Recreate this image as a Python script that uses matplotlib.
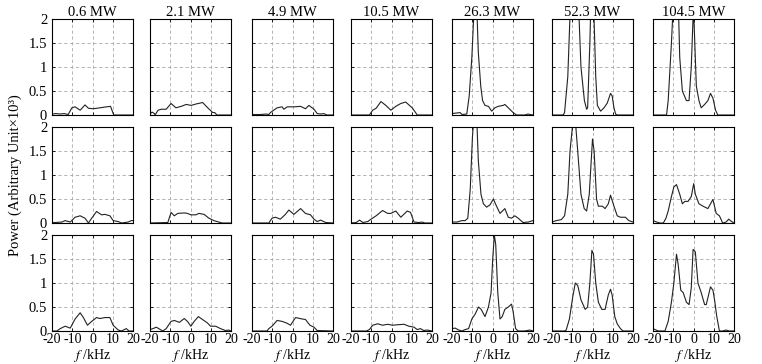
import matplotlib
matplotlib.use('Agg')
import matplotlib.pyplot as plt

plt.rcParams['font.family'] = ['Liberation Serif', 'DejaVu Serif']
plt.rcParams['mathtext.fontset'] = 'stix'
plt.rcParams['axes.unicode_minus'] = False

# heater power for each column
powers = ['0.6 MW', '2.1 MW', '4.9 MW', '10.5 MW', '26.3 MW', '52.3 MW', '104.5 MW']

# frequency (kHz) and power values, one list per column
row1_freq = [
    [-20, -18, -16, -14, -12, -10.2, -8.6, -6.1, -3.7, -2, 0.4, 3.7, 6.9, 8.9, 10.5, 20],
    [-20, -19, -17.8, -17.5, -16, -14.4, -12, -9.6, -7.2, -4.6, -2.1, 0.3, 2.8, 6, 8.5, 11, 12, 13, 20],
    [-20, -16, -13, -11.7, -10.9, -9.3, -7.6, -5.1, -4.3, -2.6, 0.7, 4, 6.4, 8.1, 10.6, 12.2, 14, 15.5, 16.9, 20],
    [-20, -10.9, -9.3, -7.6, -5.2, -2.8, -0.3, 2.1, 4.6, 7, 10.2, 11.9, 12.7, 20],
    [-20, -16, -15, -12.7, -11.5, -10.2, -9, -8.4, -7.8, -7, -5.8, -4.9, -3.7, -2, -0.4, 1.2, 2.8, 5.3, 6.1, 7.8, 10.2, 11.8, 15.9, 17.5, 20],
    [-20, -14.5, -13.8, -12.2, -11, -9.5, -8, -6.8, -5.7, -4, -2.9, -2.4, -1.3, -0.3, 0.5, 1.6, 2.4, 4, 5.7, 7.3, 8.9, 9.7, 10.6, 11.4, 12.2, 20],
    [-20, -13.3, -12.5, -10.9, -10, -8.8, -7.6, -6.8, -5.5, -3.5, -2.2, -1.1, -0.2, 0.3, 1.4, 2.7, 3.8, 5.5, 7.1, 8.4, 9.6, 10.9, 12, 20],
]
row1_power = [
    [0.02, 0.03, 0.02, 0.03, 0.01, 0.15, 0.17, 0.1, 0.21, 0.14, 0.13, 0.15, 0.17, 0.18, 0.0, 0.0],
    [0.02, 0.06, 0.03, 0.0, 0.1, 0.12, 0.12, 0.24, 0.15, 0.18, 0.22, 0.2, 0.23, 0.26, 0.15, 0.05, 0.05, 0.0, 0.0],
    [0.01, 0.01, 0.02, 0.01, 0.05, 0.1, 0.15, 0.17, 0.12, 0.17, 0.17, 0.18, 0.13, 0.2, 0.12, 0.03, 0.02, 0.03, 0.0, 0.0],
    [0.0, 0.0, 0.1, 0.14, 0.28, 0.2, 0.1, 0.18, 0.24, 0.27, 0.15, 0.05, 0.0, 0.0],
    [0.03, 0.05, 0.01, 0.02, 0.4, 1.2, 2.3, 2.6, 2.3, 1.3, 0.6, 0.3, 0.2, 0.18, 0.08, 0.15, 0.18, 0.2, 0.22, 0.15, 0.05, 0.0, 0.0, 0.02, 0.0],
    [0.0, 0.0, 0.05, 0.8, 2.2, 3.5, 3.4, 2.2, 1.0, 0.3, 0.12, 0.15, 1.5, 3.2, 2.4, 0.8, 0.2, 0.08, 0.15, 0.25, 0.45, 0.4, 0.15, 0.02, 0.0, 0.0],
    [0.0, 0.0, 0.3, 1.5, 2.3, 3.0, 2.5, 1.2, 0.5, 0.3, 0.3, 1.0, 2.05, 1.9, 0.6, 0.3, 0.15, 0.22, 0.3, 0.45, 0.35, 0.1, 0.0, 0.0],
]

row2_freq = [
    [-20, -18.4, -15.1, -13.5, -11, -8.6, -6.1, -3.7, -2, -0.4, 2, 4.5, 6.1, 8.6, 10.2, 12.7, 14.3, 17.6, 19.2, 20],
    [-20, -11.2, -9.6, -8, -6.3, -3.1, -1.5, 0.2, 2.6, 4.2, 6.7, 9.1, 11.5, 14, 15.6, 20],
    [-20, -11.7, -10.1, -8.4, -6, -3.5, -1.8, 0.7, 4, 6.4, 8.9, 10.6, 12.2, 13.9, 16.4, 20],
    [-20, -17.4, -15.8, -14.1, -11.7, -10.1, -7.6, -4.4, -1.9, -0.3, 2.1, 4.6, 7.8, 9.4, 11.1, 13.5, 15.1, 16.5, 20],
    [-20, -17.6, -15.1, -13.5, -12.2, -11, -9.9, -9, -8.4, -7.8, -7, -5.7, -4.5, -2.9, -1.2, 0.4, 2, 3.7, 6.1, 7.8, 9.4, 11, 12.7, 15.1, 17.6, 20],
    [-20, -17.9, -15.4, -13.8, -12.2, -11.1, -9.8, -8.5, -7.3, -5.7, -4.1, -2.9, -1.6, 0, 0.8, 2, 2.9, 4.9, 6.2, 7.8, 8.9, 10.6, 12.2, 13.8, 16.3, 17.9, 20],
    [-20, -18.2, -16.6, -14.9, -13.6, -12.5, -10.9, -9.7, -8.4, -6.8, -5.5, -4.3, -2.7, -1.1, 0.1, 0.9, 2.7, 4.7, 7.1, 9.6, 11.2, 12.8, 14.4, 16.1, 17.4, 18.5, 20],
]
row2_power = [
    [0.01, 0.01, 0.02, 0.05, 0.02, 0.12, 0.15, 0.1, 0.0, 0.1, 0.24, 0.17, 0.18, 0.15, 0.05, 0.03, 0.0, 0.02, 0.05, 0.05],
    [0.0, 0.01, 0.22, 0.15, 0.2, 0.21, 0.2, 0.17, 0.17, 0.2, 0.18, 0.1, 0.05, 0.02, 0.0, 0.0],
    [0.0, 0.0, 0.1, 0.12, 0.08, 0.18, 0.27, 0.18, 0.3, 0.2, 0.17, 0.08, 0.03, 0.06, 0.01, 0.0],
    [0.0, 0.01, 0.06, 0.01, 0.03, 0.08, 0.15, 0.26, 0.2, 0.2, 0.25, 0.12, 0.25, 0.22, 0.02, 0.01, 0.02, 0.0, 0.0],
    [0.02, 0.02, 0.05, 0.05, 0.1, 0.7, 1.8, 2.3, 2.4, 2.2, 1.3, 0.6, 0.4, 0.33, 0.38, 0.5, 0.35, 0.2, 0.3, 0.12, 0.1, 0.15, 0.1, 0.01, 0.02, 0.05],
    [0.02, 0.05, 0.07, 0.15, 0.6, 1.5, 2.05, 2.15, 1.5, 0.6, 0.3, 0.25, 0.6, 1.75, 1.5, 0.5, 0.35, 0.35, 0.3, 0.4, 0.58, 0.35, 0.15, 0.12, 0.12, 0.05, 0.02],
    [0.05, 0.02, 0.0, 0.0, 0.1, 0.25, 0.55, 0.75, 0.8, 0.6, 0.4, 0.45, 0.45, 0.55, 0.82, 0.6, 0.4, 0.35, 0.3, 0.49, 0.2, 0.15, 0.0, 0.02, 0.08, 0.04, 0.0],
]

row3_freq = [
    [-20, -17.6, -15.9, -13.5, -11, -8.6, -6.1, -4.5, -2.5, -0.4, 2, 3.7, 6.1, 8.6, 10.2, 12.7, 14.3, 16.7, 18, 20],
    [-20, -18.5, -16.9, -15.3, -13.7, -12, -9.6, -8, -5.5, -3.1, -1.5, 0.2, 1.8, 3.9, 5.9, 8.3, 9.9, 12.4, 14.8, 17.2, 18.9, 20],
    [-20, -12.6, -11.7, -10.1, -7.6, -5.1, -2.6, -1, 1.5, 4.8, 6.4, 8.6, 10.6, 12.2, 20],
    [-20, -12.4, -10.9, -9.3, -6.8, -4.4, -1.9, 0.5, 2.9, 6.2, 8.6, 11.1, 12.7, 14.3, 15.9, 17.6, 20],
    [-20, -18.4, -16.7, -15.1, -13.5, -11.8, -10.2, -8.6, -6.9, -5.6, -3.7, -2, -0.7, 0.1, 0.9, 1.6, 2.6, 3.7, 4.8, 6.1, 7.8, 9.4, 10.2, 11.4, 12.7, 15.9, 18.4, 20],
    [-20, -13.8, -13, -11.4, -9.8, -8.5, -7.3, -5.7, -3.6, -2.4, -1.3, -0.3, 0.5, 1.6, 2.9, 4.6, 6.2, 7.8, 8.9, 9.7, 11, 12.2, 13.8, 15.1, 20],
    [-20, -19, -17.4, -14.1, -12.5, -10.9, -9.7, -8.4, -7.6, -6.3, -5.1, -3.5, -2.2, -1.1, -0.2, 0.9, 2.2, 3.8, 5.5, 6.3, 8.4, 9.6, 10.4, 11.5, 12.8, 14.4, 16.1, 17.7, 20],
]
row3_power = [
    [0.0, 0.0, 0.05, 0.1, 0.06, 0.25, 0.38, 0.28, 0.12, 0.2, 0.28, 0.26, 0.28, 0.28, 0.12, 0.02, 0.0, 0.05, 0.0, 0.0],
    [0.03, 0.05, 0.08, 0.04, 0.0, 0.05, 0.2, 0.22, 0.18, 0.26, 0.2, 0.1, 0.2, 0.3, 0.24, 0.17, 0.1, 0.1, 0.05, 0.01, 0.02, 0.0],
    [0.0, 0.0, 0.05, 0.1, 0.22, 0.2, 0.16, 0.12, 0.28, 0.25, 0.24, 0.12, 0.08, 0.01, 0.0],
    [0.0, 0.0, 0.03, 0.12, 0.15, 0.12, 0.14, 0.12, 0.13, 0.14, 0.1, 0.08, 0.03, 0.05, 0.01, 0.02, 0.0],
    [0.05, 0.06, 0.02, 0.0, 0.03, 0.05, 0.25, 0.35, 0.5, 0.45, 0.3, 0.5, 0.8, 1.5, 2.0, 1.8, 0.8, 0.25, 0.3, 0.45, 0.5, 0.56, 0.4, 0.05, 0.0, 0.0, 0.02, 0.0],
    [0.0, 0.0, 0.02, 0.25, 0.7, 1.0, 0.95, 0.65, 0.45, 0.5, 1.0, 1.68, 1.6, 1.0, 0.6, 0.45, 0.45, 0.75, 0.87, 0.75, 0.3, 0.15, 0.05, 0.0, 0.0],
    [0.05, 0.03, 0.0, 0.0, 0.2, 0.6, 1.0, 1.6, 1.4, 0.85, 0.8, 0.6, 0.55, 0.9, 1.7, 1.65, 1.0, 0.8, 0.55, 0.55, 0.92, 0.85, 0.65, 0.3, 0.0, 0.0, 0.02, 0.0, 0.0],
]

freqs = [row1_freq, row2_freq, row3_freq]
powers_data = [row1_power, row2_power, row3_power]

W, H = 762, 364
fig = plt.figure(figsize=(W / 100, H / 100), dpi=100)

col_left = [52, 150, 252, 351, 452, 552, 653]
row_top = [19, 127, 235]
ax_w, ax_h = 81, 96

for r in range(3):
    for c in range(7):
        ax = fig.add_axes([col_left[c] / W, 1 - (row_top[r] + ax_h) / H, ax_w / W, ax_h / H])
        ax.plot(freqs[r][c], powers_data[r][c], color='#222222', lw=0.8)
        ax.set_xlim(-20, 20)
        ax.set_ylim(0, 2)
        ax.set_xticks([-20, -10, 0, 10, 20])
        ax.set_yticks([0, 0.5, 1, 1.5, 2])
        ax.set_yticklabels(['0', '0.5', '1', '1.5', '2'])
        ax.grid(True, color='#aaaaaa', linestyle=(0, (4, 3)), lw=0.6)
        ax.tick_params(direction='in', length=2, width=0.6, labelsize=10.5, pad=3.5,
                       top=True, right=True)
        ax.tick_params(axis='x', labelsize=10, pad=1.5)
        for s in ax.spines.values():
            s.set_linewidth(0.8)
        if r == 0:
            ax.set_title(powers[c], fontsize=10.5, pad=2)
        if r == 2:
            ax.set_xlabel('$f$ /kHz', fontsize=10, labelpad=0.5)
        else:
            ax.set_xticklabels([])
        if c != 0:
            ax.set_yticklabels([])

fig.text(15 / W, 1 - 175 / H, 'Power (Arbitrary Unit×10³)', rotation=90,
         ha='center', va='center', fontsize=10.5)

fig.savefig('out.png', dpi=100)
